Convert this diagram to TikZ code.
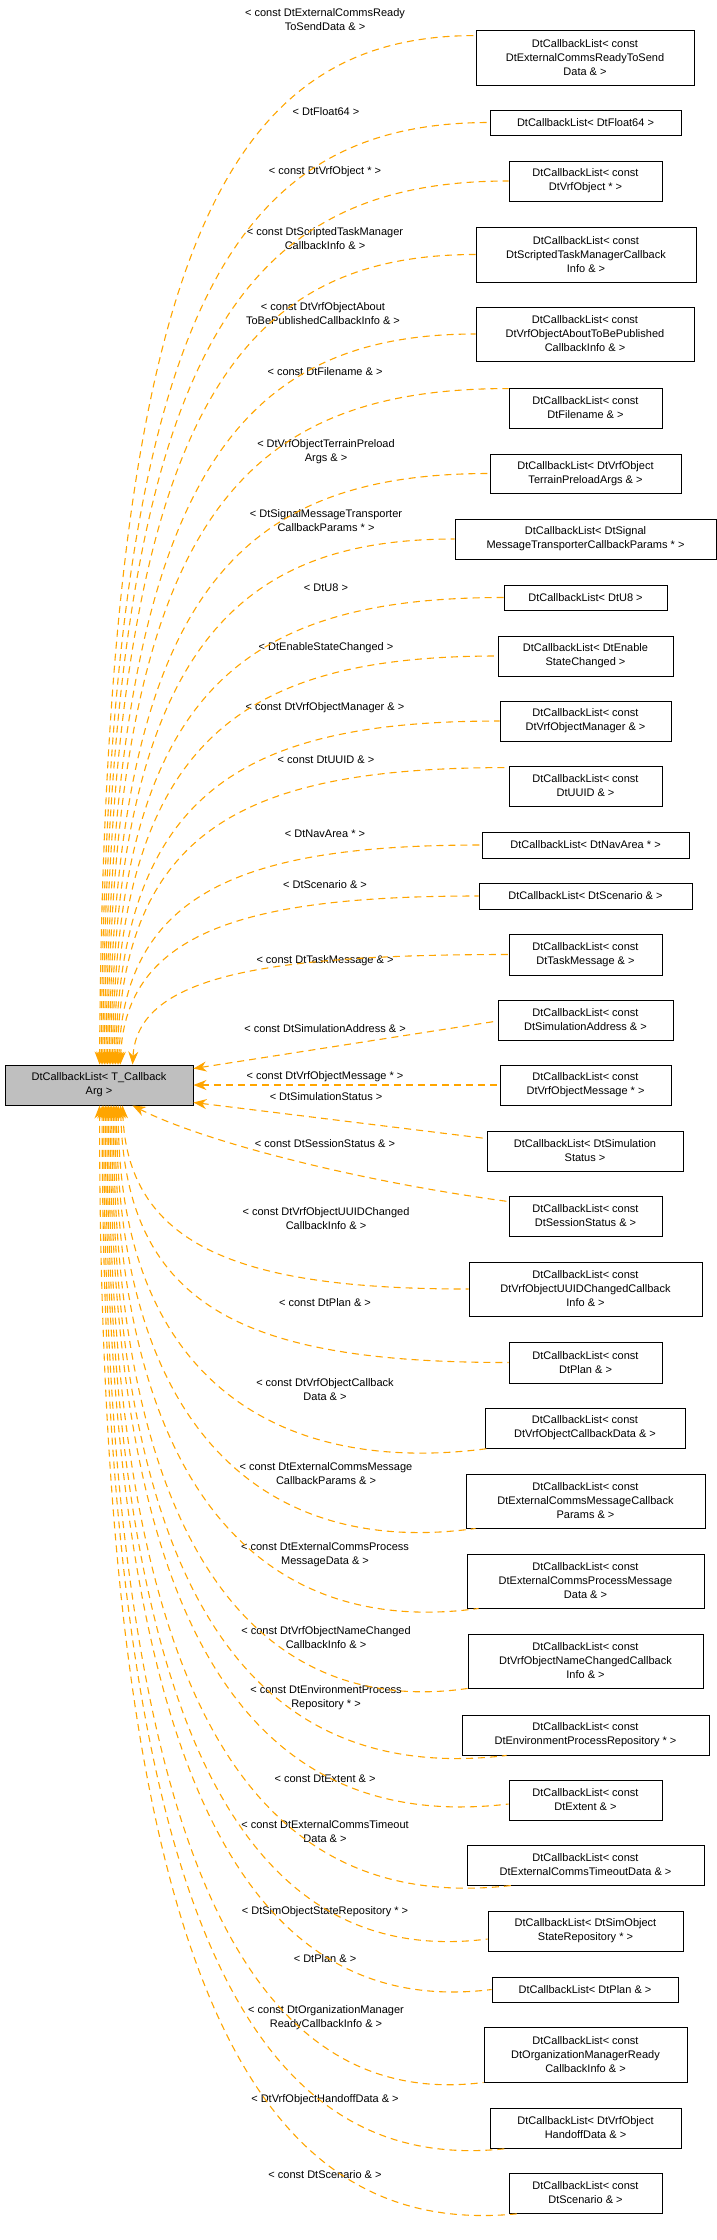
\documentclass[tikz,border=0pt]{standalone}
\usepackage{fontspec}
\setmainfont{Liberation Sans}
\usetikzlibrary{arrows.meta,calc}
\definecolor{eorange}{HTML}{FFA500}
\definecolor{basegray}{HTML}{BFBFBF}
\newcommand\mybox[6]{\node[box,minimum width={(#4-#2)*1pt},minimum height={(#5-#3)*1pt}] (#1) at ({(#2+#4)/2},{(#3+#5)/2}) {#6};}
\newcommand\lab[4]{\node[lbl] (#1) at (#2,#3) {#4};}
\newcommand\upedge[2]{\draw[e] let \p1=([xshift=#2pt]base.north west), \p2=(#1) in (\p1) .. controls (\x1+5pt,{\y1+0.8*(\y2-\y1)}) and (\x1+130pt,\y2) .. (\p2);}
\newcommand\loedge[2]{\draw[e] let \p1=([xshift=#2pt]base.south west), \p2=(#1) in (\p1) .. controls (\x1,{\y1+0.8*(\y2-\y1)}) and (\x1+160pt,\y2-28pt) .. (\p2);}
\newcommand\loedgew[2]{\draw[e] let \p1=([xshift=#2pt]base.south west), \p2=(#1) in (\p1) .. controls (\x1+5pt,{\y1+0.8*(\y2-\y1)}) and (\x1+130pt,\y2) .. (\p2);}
\begin{document}
\begin{tikzpicture}[x=1pt,y=-1pt,
  every node/.style={font=\fontsize{11}{14}\selectfont},
  box/.style={draw=black,line width=0.9pt,fill=white,align=center,inner sep=1pt},
  lbl/.style={align=center,inner sep=0pt},
  e/.style={draw=eorange,line width=1.1pt,dash pattern=on 7pt off 5pt,{Stealth[length=13pt,width=10pt,fill=eorange]}-}]
\useasboundingbox (0,0) rectangle (717,2240);
\node[box,fill=basegray,minimum width=188pt,minimum height=40pt] (base) at (99,1085) {DtCallbackList< T\_Callback\\Arg >};
\mybox{c1}{476}{30}{694}{85}{DtCallbackList< const\\ DtExternalCommsReadyToSend\\Data \& >}
\mybox{c2}{490}{110}{681}{135}{DtCallbackList< DtFloat64 >}
\mybox{c3}{509}{161}{662}{201}{DtCallbackList< const\\DtVrfObject * >}
\mybox{c4}{476}{227}{696}{282}{DtCallbackList< const\\ DtScriptedTaskManagerCallback\\Info \& >}
\mybox{c5}{476}{307}{694}{361}{DtCallbackList< const\\ DtVrfObjectAboutToBePublished\\CallbackInfo \& >}
\mybox{c6}{509}{388}{662}{428}{DtCallbackList< const\\DtFilename \& >}
\mybox{c7}{490}{454}{681}{493}{DtCallbackList< DtVrfObject\\TerrainPreloadArgs \& >}
\mybox{c8}{455}{519}{716}{559}{DtCallbackList< DtSignal\\MessageTransporterCallbackParams * >}
\mybox{c9}{504}{585}{667}{610}{DtCallbackList< DtU8 >}
\mybox{c10}{498}{636}{673}{676}{DtCallbackList< DtEnable\\StateChanged >}
\mybox{c11}{500}{701}{671}{741}{DtCallbackList< const\\ DtVrfObjectManager \& >}
\mybox{c12}{509}{766}{662}{806}{DtCallbackList< const\\DtUUID \& >}
\mybox{c13}{482}{832}{689}{858}{DtCallbackList< DtNavArea * >}
\mybox{c14}{479}{883}{692}{909}{DtCallbackList< DtScenario \& >}
\mybox{c15}{509}{934}{662}{975}{DtCallbackList< const\\DtTaskMessage \& >}
\mybox{c16}{498}{1000}{673}{1040}{DtCallbackList< const\\ DtSimulationAddress \& >}
\mybox{c17}{500}{1065}{671}{1105}{DtCallbackList< const\\ DtVrfObjectMessage * >}
\mybox{c18}{487}{1131}{683}{1171}{DtCallbackList< DtSimulation\\Status >}
\mybox{c19}{509}{1196}{662}{1236}{DtCallbackList< const\\DtSessionStatus \& >}
\mybox{c20}{469}{1262}{702}{1316}{DtCallbackList< const\\ DtVrfObjectUUIDChangedCallback\\Info \& >}
\mybox{c21}{509}{1342}{662}{1383}{DtCallbackList< const\\DtPlan \& >}
\mybox{c22}{485}{1408}{685}{1448}{DtCallbackList< const\\ DtVrfObjectCallbackData \& >}
\mybox{c23}{466}{1474}{705}{1528}{DtCallbackList< const\\ DtExternalCommsMessageCallback\\Params \& >}
\mybox{c24}{467}{1554}{704}{1608}{DtCallbackList< const\\ DtExternalCommsProcessMessage\\Data \& >}
\mybox{c25}{468}{1634}{703}{1688}{DtCallbackList< const\\ DtVrfObjectNameChangedCallback\\Info \& >}
\mybox{c26}{462}{1715}{709}{1755}{DtCallbackList< const\\ DtEnvironmentProcessRepository * >}
\mybox{c27}{509}{1780}{662}{1820}{DtCallbackList< const\\DtExtent \& >}
\mybox{c28}{467}{1845}{704}{1885}{DtCallbackList< const\\ DtExternalCommsTimeoutData \& >}
\mybox{c29}{488}{1911}{683}{1951}{DtCallbackList< DtSimObject\\StateRepository * >}
\mybox{c30}{492}{1977}{678}{2002}{DtCallbackList< DtPlan \& >}
\mybox{c31}{484}{2027}{687}{2082}{DtCallbackList< const\\ DtOrganizationManagerReady\\CallbackInfo \& >}
\mybox{c32}{490}{2108}{681}{2148}{DtCallbackList< DtVrfObject\\HandoffData \& >}
\mybox{c33}{509}{2173}{662}{2213}{DtCallbackList< const\\DtScenario \& >}
\lab{l1}{325}{20}{< const DtExternalCommsReady\\ToSendData \& >}
\lab{l2}{326}{112}{< DtFloat64 >}
\lab{l3}{325}{172}{< const DtVrfObject * >}
\lab{l4}{325}{239}{< const DtScriptedTaskManager\\CallbackInfo \& >}
\lab{l5}{323}{314}{< const DtVrfObjectAbout\\ToBePublishedCallbackInfo \& >}
\lab{l6}{325}{372}{< const DtFilename \& >}
\lab{l7}{326}{452}{< DtVrfObjectTerrainPreload\\Args \& >}
\lab{l8}{326}{521}{< DtSignalMessageTransporter\\CallbackParams * >}
\lab{l9}{326}{588}{< DtU8 >}
\lab{l10}{326}{648}{< DtEnableStateChanged >}
\lab{l11}{325}{708}{< const DtVrfObjectManager \& >}
\lab{l12}{326}{760}{< const DtUUID \& >}
\lab{l13}{325}{834}{< DtNavArea * >}
\lab{l14}{325}{885}{< DtScenario \& >}
\lab{l15}{325}{961}{< const DtTaskMessage \& >}
\lab{l16}{325}{1029}{< const DtSimulationAddress \& >}
\lab{l17}{325}{1077}{< const DtVrfObjectMessage * >}
\lab{l18}{326}{1097}{< DtSimulationStatus >}
\lab{l19}{325}{1144}{< const DtSessionStatus \& >}
\lab{l20}{326}{1219}{< const DtVrfObjectUUIDChanged\\CallbackInfo \& >}
\lab{l21}{325}{1303}{< const DtPlan \& >}
\lab{l22}{325}{1390}{< const DtVrfObjectCallback\\Data \& >}
\lab{l23}{326}{1474}{< const DtExternalCommsMessage\\CallbackParams \& >}
\lab{l24}{325}{1555}{< const DtExternalCommsProcess\\MessageData \& >}
\lab{l25}{326}{1638}{< const DtVrfObjectNameChanged\\CallbackInfo \& >}
\lab{l26}{326}{1698}{< const DtEnvironmentProcess\\Repository * >}
\lab{l27}{325}{1779}{< const DtExtent \& >}
\lab{l28}{325}{1832}{< const DtExternalCommsTimeout\\Data \& >}
\lab{l29}{325}{1912}{< DtSimObjectStateRepository * >}
\lab{l30}{325}{1959}{< DtPlan \& >}
\lab{l31}{326}{2018}{< const DtOrganizationManager\\ReadyCallbackInfo \& >}
\lab{l32}{325}{2100}{< DtVrfObjectHandoffData \& >}
\lab{l33}{325}{2175}{< const DtScenario \& >}
\upedge{[yshift=-6pt]c1.north west}{95}
\upedge{c2.west}{96.6}
\upedge{c3.west}{98.2}
\upedge{c4.west}{99.8}
\upedge{c5.west}{101.4}
\upedge{[yshift=-1pt]c6.north west}{103}
\upedge{c7.west}{104.6}
\upedge{c8.west}{106.2}
\upedge{c9.west}{107.8}
\upedge{c10.west}{109.4}
\upedge{c11.west}{111}
\upedge{[yshift=-2pt]c12.north west}{112.6}
\upedge{c13.west}{114.2}
\upedge{c14.west}{115.8}
\upedge{c15.west}{128}
\draw[e] ([yshift=-4pt]base.north east) -- ([yshift=-1pt]c16.west);
\draw[e] (base.east) -- (c17.west);
\draw[e] ([yshift=3pt]base.south east) -- ([yshift=-8pt]c18.north west);
\draw[e] ([xshift=128pt]base.south west) .. controls (200,1140) and (350,1180) .. ([yshift=-6pt]c19.north west);
\loedgew{c20.west}{118}
\loedgew{c21.west}{116}
\loedge{[xshift=4pt]c22.south west}{113.7}
\loedge{[xshift=10pt]c23.south west}{112}
\loedge{[xshift=12pt]c24.south west}{110.4}
\loedge{[xshift=0pt]c25.south west}{108.8}
\loedge{[xshift=45pt]c26.south west}{107.2}
\loedge{[yshift=-4pt]c27.west}{105.6}
\loedge{[xshift=45pt]c28.south west}{104}
\loedge{[yshift=-8pt]c29.west}{102.4}
\loedge{c30.west}{100.8}
\loedge{c31.south west}{99.2}
\loedge{[xshift=18pt]c32.south west}{97.6}
\loedge{[xshift=12pt]c33.south west}{95}
\end{tikzpicture}
\end{document}
